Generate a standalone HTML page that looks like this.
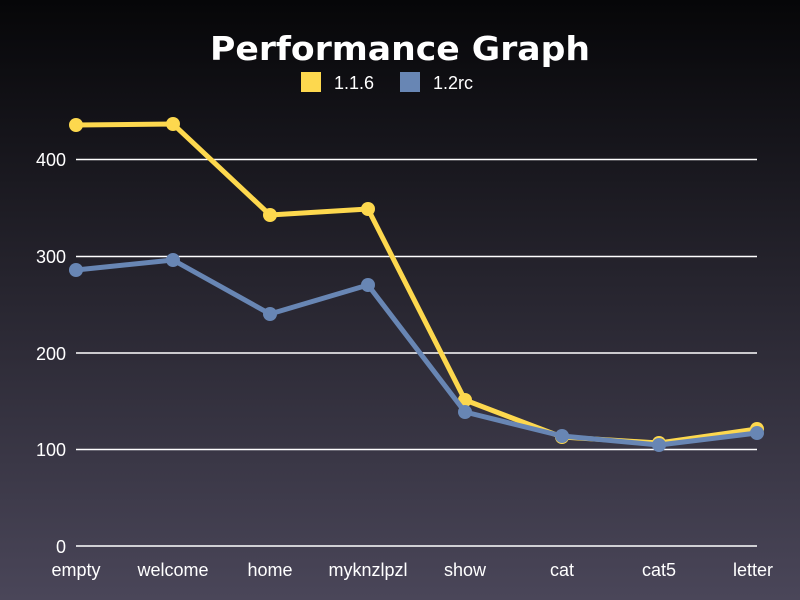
<!DOCTYPE html>
<html><head><meta charset="utf-8"><style>
html,body{margin:0;padding:0;}
body{width:800px;height:600px;overflow:hidden;background:linear-gradient(#060608,#4a4659);}
</style></head><body>
<svg width="800" height="600" xmlns="http://www.w3.org/2000/svg" style="position:absolute;left:0;top:0">
<g font-family="Liberation Sans, sans-serif" fill="#fff">
<text x="400" y="60" font-size="33" font-weight="bold" text-anchor="middle" font-family="DejaVu Sans, sans-serif" textLength="380" lengthAdjust="spacingAndGlyphs">Performance Graph</text>
<rect x="301" y="72" width="20" height="20" fill="#fdd84e"/>
<text x="334" y="89" font-size="18">1.1.6</text>
<rect x="400" y="72" width="20" height="20" fill="#6886b4"/>
<text x="433" y="89" font-size="18">1.2rc</text>
</g>
<g stroke="#fff" stroke-width="1.5">
<line x1="76" y1="159.5" x2="757" y2="159.5"/>
<line x1="76" y1="256.5" x2="757" y2="256.5"/>
<line x1="76" y1="353" x2="757" y2="353"/>
<line x1="76" y1="449.5" x2="757" y2="449.5"/>
<line x1="76" y1="546" x2="757" y2="546"/>
</g>
<g font-family="Liberation Sans, sans-serif" fill="#fff" font-size="18" text-anchor="end">
<text x="66" y="166">400</text><text x="66" y="263">300</text><text x="66" y="360">200</text><text x="66" y="456">100</text><text x="66" y="553">0</text>
</g>
<g font-family="Liberation Sans, sans-serif" fill="#fff" font-size="18" text-anchor="middle">
<text x="76" y="576">empty</text><text x="173" y="576">welcome</text><text x="270" y="576">home</text><text x="368" y="576">myknzlpzl</text><text x="465" y="576">show</text><text x="562" y="576">cat</text><text x="659" y="576">cat5</text><text x="753" y="576">letter</text>
</g>
<polyline fill="none" stroke="#fdd84e" stroke-width="5" stroke-linejoin="round" points="76,125 173,124 270,215 368,209 465,400 562,437 659,443 757,429"/>
<g fill="#fdd84e">
<circle cx="76" cy="125" r="7"/><circle cx="173" cy="124" r="7"/><circle cx="270" cy="215" r="7"/><circle cx="368" cy="209" r="7"/><circle cx="465" cy="400" r="7"/><circle cx="562" cy="437" r="7"/><circle cx="659" cy="443" r="7"/><circle cx="757" cy="429" r="7"/>
</g>
<polyline fill="none" stroke="#6886b4" stroke-width="5" stroke-linejoin="round" points="76,270 173,260 270,314 368,285 465,412 562,436 659,445 757,433"/>
<g fill="#6886b4">
<circle cx="76" cy="270" r="7"/><circle cx="173" cy="260" r="7"/><circle cx="270" cy="314" r="7"/><circle cx="368" cy="285" r="7"/><circle cx="465" cy="412" r="7"/><circle cx="562" cy="436" r="7"/><circle cx="659" cy="445" r="7"/><circle cx="757" cy="433" r="7"/>
</g>
</svg>
</body></html>
